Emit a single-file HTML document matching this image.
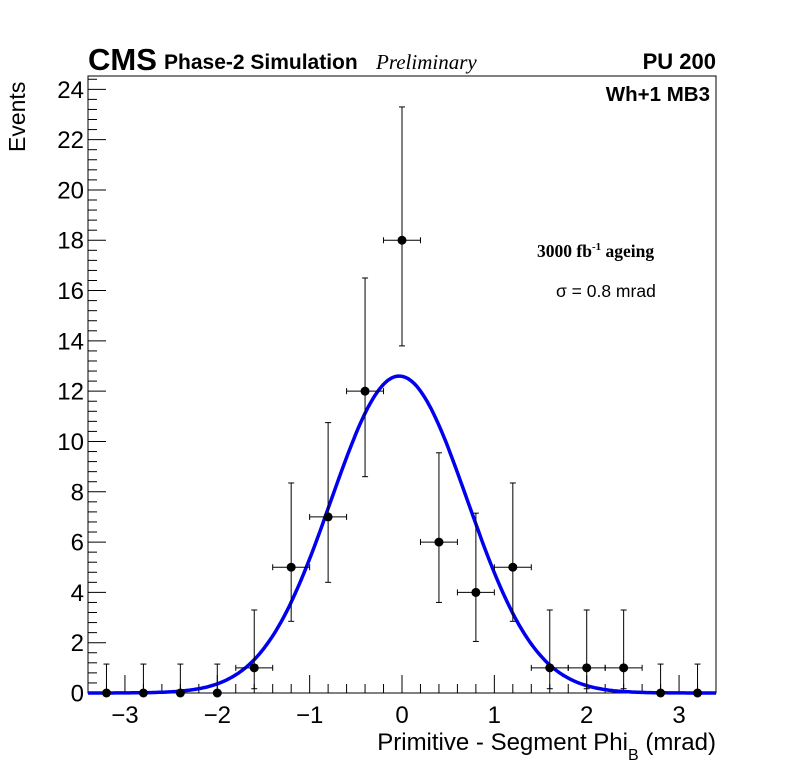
<!DOCTYPE html>
<html><head><meta charset="utf-8"><style>
body{margin:0;background:#fff;}
svg{display:block;font-family:"Liberation Sans",sans-serif;}
</style></head><body>
<svg id="chart" width="796" height="772" viewBox="0 0 796 772">
<rect width="796" height="772" fill="#fff"/>
<g id="axes"></g>
<g id="marks"></g>
<text x="88" y="70" font-size="31" font-weight="bold">CMS</text>
<text x="164" y="69" font-size="21" font-weight="bold">Phase-2 Simulation</text>
<text x="376" y="69" font-size="21" font-style="italic" font-family="Liberation Serif,serif">Preliminary</text>
<text x="716" y="69" font-size="22" font-weight="bold" text-anchor="end">PU 200</text>
<text x="710" y="101" font-size="20.5" font-weight="bold" text-anchor="end">Wh+1 MB3</text>
<text x="537" y="257" font-size="17.5" font-weight="bold" font-family="Liberation Serif,serif">3000 fb<tspan dy="-7" font-size="11">-1</tspan><tspan dy="7"> ageing</tspan></text>
<text x="556" y="297" font-size="17.5">σ = 0.8 mrad</text>
<text transform="translate(25,152) rotate(-90)" font-size="23">Events</text>
<text x="716" y="750" font-size="24" text-anchor="end">Primitive - Segment Phi<tspan dy="10" font-size="16">B</tspan><tspan dy="-10"> (mrad)</tspan></text>
</svg>
<script>
const binCenters=[-3.2,-2.8,-2.4,-2.0,-1.6,-1.2,-0.8,-0.4,0,0.4,0.8,1.2,1.6,2.0,2.4,2.8,3.2];
const counts=[0,0,0,0,1,5,7,12,18,6,4,5,1,1,1,0,0];
const errUp=[1.15,1.15,1.15,1.15,2.3,3.35,3.75,4.5,5.3,3.55,3.15,3.35,2.3,2.3,2.3,1.15,1.15];
const errDown=[0,0,0,0,0.83,2.15,2.6,3.4,4.2,2.4,1.95,2.15,0.83,0.83,0.83,0,0];
const fitParams=[12.6,-0.03,0.74];
const xTicks=[-3,-2,-1,0,1,2,3];
const yTicks=[0,2,4,6,8,10,12,14,16,18,20,22,24];
const NS="http://www.w3.org/2000/svg";
const L=88,R=716,T=76,B=693;
const X0=-3.4,X1=3.4,Y0=0,Y1=24.53;
const sx=v=>L+(v-X0)/(X1-X0)*(R-L);
const sy=v=>B-(v-Y0)/(Y1-Y0)*(B-T);
function mk(tag,attrs,parent){const e=document.createElementNS(NS,tag);for(const k in attrs)e.setAttribute(k,attrs[k]);parent.appendChild(e);return e;}
const ax=document.getElementById('axes'),mg=document.getElementById('marks');
const frame=mk('rect',{x:L,y:T,width:R-L,height:B-T,fill:'none',stroke:'#000','stroke-width':1},ax);


for(let i=-17;i<=17;i++){const v=i*0.2;const maj=Math.abs(v-Math.round(v))<1e-6;
 const ln=mk('line',{x1:sx(v),x2:sx(v),y1:B,y2:B-(maj?18:9),stroke:'#000'},ax);
 
 }
xTicks.forEach(v=>{const t=mk('text',{x:sx(v),y:B+30,'font-size':24,'text-anchor':'middle'},ax);t.textContent=(v<0?'−':'')+Math.abs(v);
 
 });
for(let i=0;i<=61;i++){const v=i*0.4;if(v>Y1)break;const maj=Math.abs(v/2-Math.round(v/2))<1e-6;
 const ln=mk('line',{x1:L,x2:L+(maj?18:9),y1:sy(v),y2:sy(v),stroke:'#000'},ax);
 
 }
yTicks.forEach(v=>{const t=mk('text',{x:L-4,y:sy(v)+8.5,'font-size':24,'text-anchor':'end'},ax);t.textContent=v;
 
 });
let d='';for(let i=0;i<=300;i++){const x=X0+(X1-X0)*i/300;const y=fitParams[0]*Math.exp(-Math.pow(x-fitParams[1],2)/(2*fitParams[2]*fitParams[2]));d+=(i?'L':'M')+sx(x).toFixed(1)+','+sy(y).toFixed(1);}
const fit=mk('path',{d:d,fill:'none',stroke:'#0000ee','stroke-width':3.5},mg);


binCenters.forEach((c,i)=>{const n=counts[i];const g=mk('g',{},mg);
 
 
 mk('line',{x1:sx(c),x2:sx(c),y1:sy(n+errUp[i]),y2:sy(n-errDown[i]),stroke:'#000'},g);
 mk('line',{x1:sx(c)-3,x2:sx(c)+3,y1:sy(n+errUp[i]),y2:sy(n+errUp[i]),stroke:'#000'},g);
 if(errDown[i]>0)mk('line',{x1:sx(c)-3,x2:sx(c)+3,y1:sy(n-errDown[i]),y2:sy(n-errDown[i]),stroke:'#000'},g);
 if(n>0){mk('line',{x1:sx(c-0.2),x2:sx(c+0.2),y1:sy(n),y2:sy(n),stroke:'#000'},g);
  mk('line',{x1:sx(c-0.2),x2:sx(c-0.2),y1:sy(n)-3,y2:sy(n)+3,stroke:'#000'},g);
  mk('line',{x1:sx(c+0.2),x2:sx(c+0.2),y1:sy(n)-3,y2:sy(n)+3,stroke:'#000'},g);}
 mk('circle',{cx:sx(c),cy:sy(n),r:4.5,fill:'#000'},g);});
</script>
</body></html>
